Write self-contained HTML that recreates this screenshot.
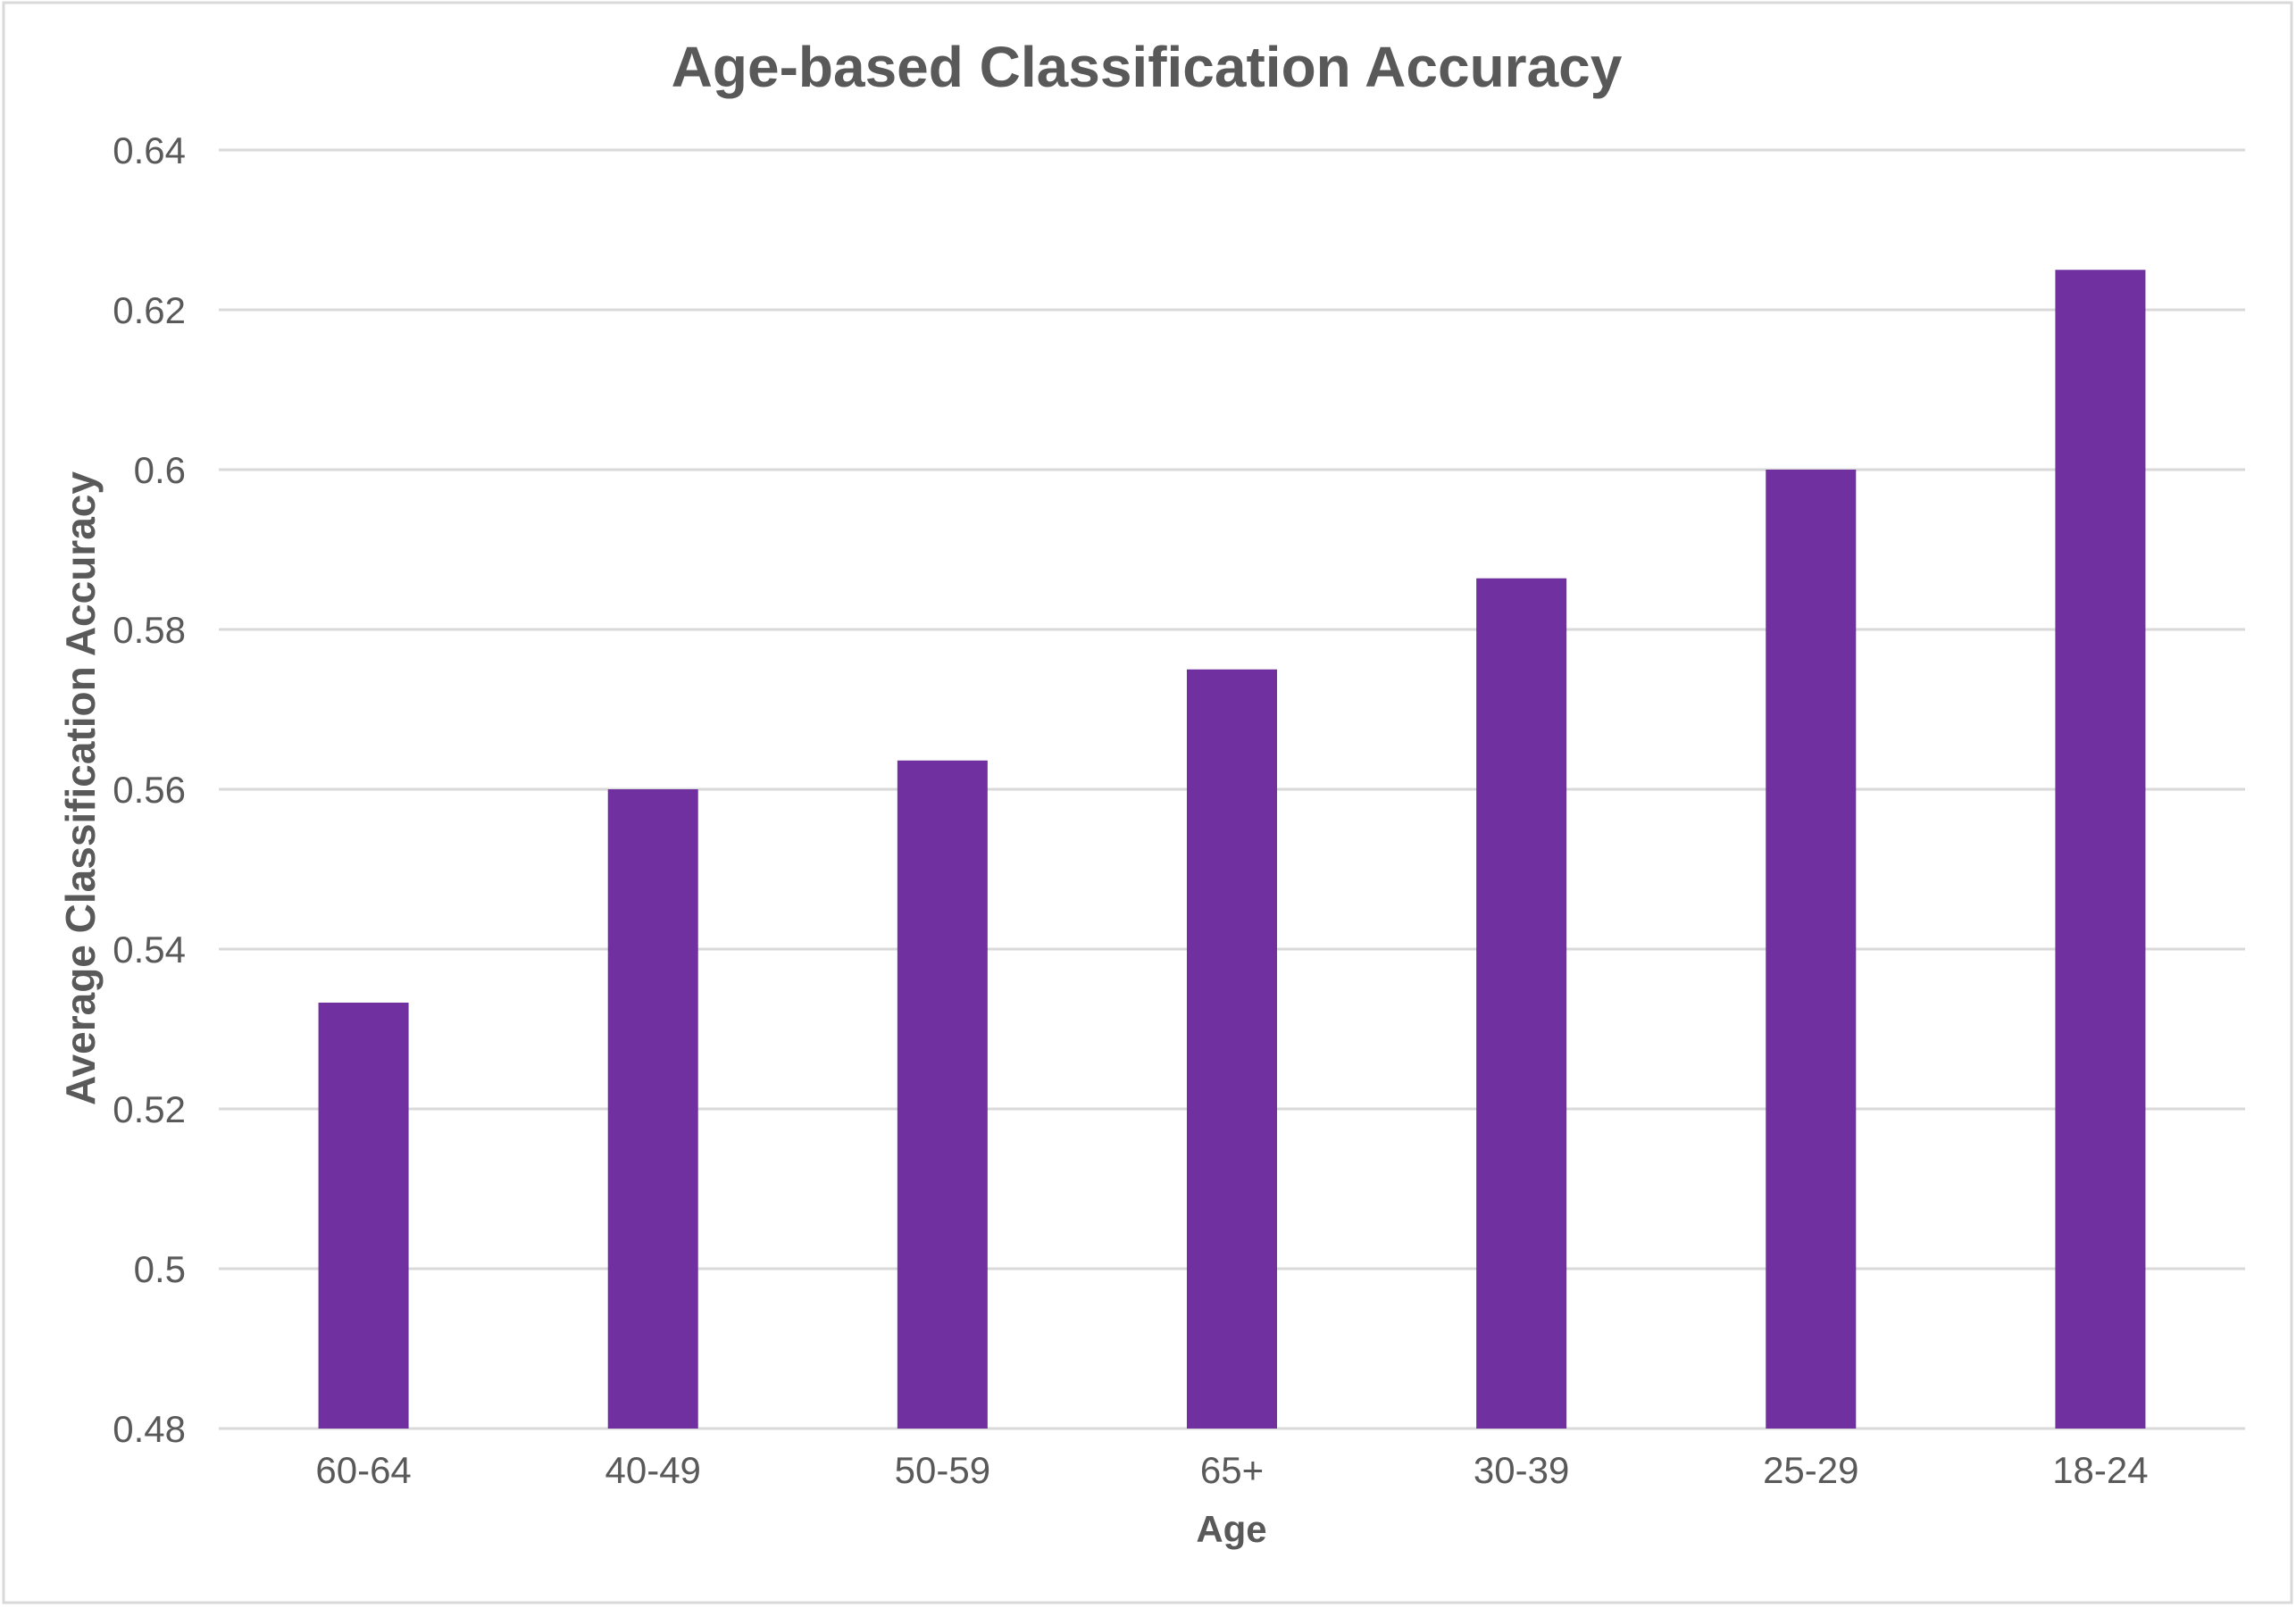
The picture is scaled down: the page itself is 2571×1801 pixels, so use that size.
<!DOCTYPE html>
<html><head><meta charset="utf-8"><style>
html,body{margin:0;padding:0;background:#fff;}
svg{display:block;font-family:"Liberation Sans",Arial,sans-serif;}
</style></head><body>
<svg id="chart" width="2571" height="1801" viewBox="0 0 2571 1801" xmlns="http://www.w3.org/2000/svg">
<rect x="4" y="3" width="2562" height="1792" fill="#fff" stroke="#d9d9d9" stroke-width="3"/>
<text x="1284" y="97" text-anchor="middle" font-size="64" font-weight="bold" fill="#595959">Age-based Classification Accuracy</text>
<g id="grid"></g>
<g id="yticks"></g>
<g id="bars"></g>
<g id="xticks"></g>
<text x="1379" y="1727" text-anchor="middle" font-size="42" font-weight="bold" fill="#595959">Age</text>
<text transform="translate(106,883) rotate(-90)" text-anchor="middle" font-size="46" font-weight="bold" fill="#595959">Average Classification Accuracy</text>
</svg>
<script>
const categories = ["60-64","40-49","50-59","65+","30-39","25-29","18-24"];
const values = [0.5333,0.56,0.5636,0.575,0.5864,0.6,0.625];
const yTicks = [0.48,0.5,0.52,0.54,0.56,0.58,0.6,0.62,0.64];
const yTickLabels = ["0.48","0.5","0.52","0.54","0.56","0.58","0.6","0.62","0.64"];
const SVGNS = "http://www.w3.org/2000/svg";
const plotL = 245, plotR = 2514, plotT = 168, plotB = 1600;
const yMin = 0.48, yMax = 0.64;
function yScale(v){ return plotB - (v - yMin) / (yMax - yMin) * (plotB - plotT); }
const bandW = (plotR - plotL) / categories.length;
function xCenter(i){ return plotL + bandW * (i + 0.5); }
const barW = 101;
function mk(tag, attrs, parent){ const e = document.createElementNS(SVGNS, tag); for (const k in attrs) e.setAttribute(k, attrs[k]); parent.appendChild(e); return e; }
const gGrid = document.getElementById('grid'), gYt = document.getElementById('yticks'), gBars = document.getElementById('bars'), gXt = document.getElementById('xticks');
yTicks.forEach((t, i) => {
  const l = mk('line', {x1:plotL, x2:plotR, y1:yScale(t), y2:yScale(t), stroke:'#d9d9d9', 'stroke-width':3}, gGrid);
  
  
  const tx = mk('text', {x:208, y:yScale(t)+15, 'text-anchor':'end', 'font-size':42, fill:'#595959'}, gYt);
  tx.textContent = yTickLabels[i];
  
  
});
categories.forEach((c, i) => {
  const r = mk('rect', {x:xCenter(i)-barW/2, y:yScale(values[i]), width:barW, height:yScale(yMin)-yScale(values[i]), fill:'#7030a0'}, gBars);
  
  
  const tx = mk('text', {x:xCenter(i), y:1661, 'text-anchor':'middle', 'font-size':42, fill:'#595959'}, gXt);
  tx.textContent = c;
  
  
});
</script>
</body></html>
